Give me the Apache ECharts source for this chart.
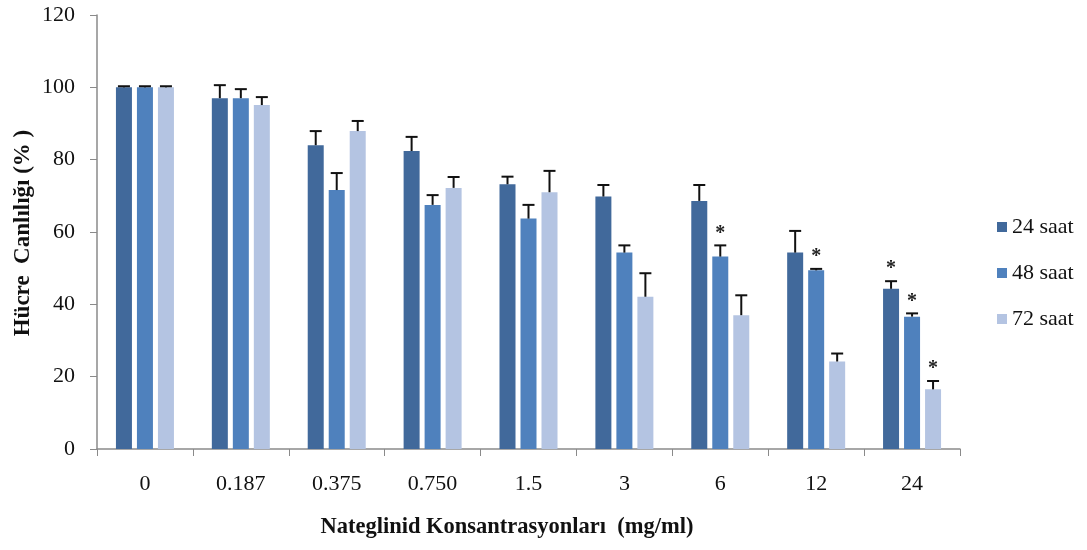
<!DOCTYPE html>
<html>
<head>
<meta charset="utf-8">
<script src="https://cdn.jsdelivr.net/npm/echarts@6/dist/echarts.min.js"></script>
<style>html,body{margin:0;padding:0;background:#fff;}#c{width:1087px;height:550px;}</style>
</head>
<body>
<div id="c"></div>
<script>
const categories = ['0', '0.187', '0.375', '0.750', '1.5', '3', '6', '12', '24'];
const seriesNames = ['24 saat', '48 saat', '72 saat'];
const mean24 = [100, 97.0, 84.0, 82.4, 73.2, 69.8, 68.6, 54.3, 44.3];
const mean48 = [100, 97.0, 71.6, 67.5, 63.7, 54.3, 53.2, 49.4, 36.6];
const mean72 = [100, 95.1, 87.9, 72.2, 71.0, 42.1, 37.0, 24.2, 16.5];
const err24 = [0.3, 3.6, 3.9, 3.9, 2.1, 3.2, 4.4, 6.0, 2.1];
const err48 = [0.3, 2.5, 4.7, 2.7, 3.8, 2.0, 3.1, 0.4, 0.9];
const err72 = [0.3, 2.2, 2.8, 3.0, 5.9, 6.5, 5.5, 2.2, 2.3];
const sig24 = [0, 0, 0, 0, 0, 0, 0, 0, 1];
const sig48 = [0, 0, 0, 0, 0, 0, 1, 1, 1];
const sig72 = [0, 0, 0, 0, 0, 0, 0, 0, 1];
const yTicks = [0, 20, 40, 60, 80, 100, 120];

const colors = ['#41699b', '#4f81bd', '#b4c4e2'];
const BAR_W = 16, GAP = 5;
const means = [mean24, mean48, mean72];
const errs = [err24, err48, err72];
const sigs = [sig24, sig48, sig72];
const serif = 'Liberation Serif';

const chart = echarts.init(document.getElementById('c'), null, {renderer: 'canvas'});

const series = [];
seriesNames.forEach((name, i) => {
  series.push({
    name: name, type: 'bar', data: means[i], barWidth: BAR_W, barGap: (GAP / BAR_W * 100) + '%',
    itemStyle: {color: colors[i]}, z: 2
  });
});
seriesNames.forEach((name, i) => {
  const offset = (i - 1) * (BAR_W + GAP);
  series.push({
    type: 'custom', name: name + ' err', silent: true, z: 5,
    data: means[i].map((m, k) => [k, m, errs[i][k], sigs[i][k]]),
    encode: {x: 0, y: 1},
    renderItem: function (params, api) {
      const k = api.value(0), m = api.value(1), e = api.value(2), s = api.value(3);
      const p0 = api.coord([k, m]);
      const p1 = api.coord([k, m + e]);
      const x = p0[0] + offset;
      const children = [
        {type: 'line', shape: {x1: x, y1: p0[1], x2: x, y2: p1[1]}, style: {stroke: '#111', lineWidth: 2}},
        {type: 'line', shape: {x1: x - 6, y1: p1[1], x2: x + 6, y2: p1[1]}, style: {stroke: '#111', lineWidth: 2}}
      ];
      if (s) {
        children.push({type: 'text', style: {text: '*', x: x, y: p1[1] - 12, align: 'center', verticalAlign: 'middle',
          font: 'bold 20px "' + serif + '"', fill: '#222'}});
      }
      return {type: 'group', children: children};
    }
  });
});

chart.setOption({
  animation: false,
  backgroundColor: '#fff',
  grid: {left: 97, right: 127, top: 15, bottom: 101, containLabel: false},
  legend: {
    data: seriesNames, orient: 'vertical', left: 992, top: 211, itemWidth: 10, itemHeight: 10, itemGap: 24,
    icon: 'rect', textStyle: {fontFamily: serif, fontSize: 22, color: '#111'}
  },
  xAxis: {
    type: 'category', data: categories,
    axisLine: {lineStyle: {color: '#8a8a8a', width: 1.5}},
    axisTick: {show: true, length: 7, alignWithLabel: false, lineStyle: {color: '#8a8a8a'}},
    axisLabel: {fontFamily: serif, fontSize: 22, color: '#111', margin: 24}
  },
  yAxis: {
    type: 'value', min: yTicks[0], max: yTicks[yTicks.length - 1], interval: 20,
    axisLine: {show: true, lineStyle: {color: '#8a8a8a', width: 1.5}},
    axisTick: {show: true, length: 7, lineStyle: {color: '#8a8a8a'}},
    splitLine: {show: false},
    axisLabel: {fontFamily: serif, fontSize: 22, color: '#111', margin: 22}
  },
  graphic: [
    {type: 'text', x: 507, y: 527, style: {text: 'Nateglinid Konsantrasyonları  (mg/ml)', align: 'center', verticalAlign: 'middle', font: 'bold 22.5px "' + serif + '"', fill: '#111'}},
    {type: 'text', x: 23, y: 233, rotation: Math.PI / 2, style: {text: 'Hücre  Canlılığı (% )', align: 'center', verticalAlign: 'middle', font: 'bold 23px "' + serif + '"', fill: '#111'}}
  ],
  series: series
});
</script>
</body>
</html>
